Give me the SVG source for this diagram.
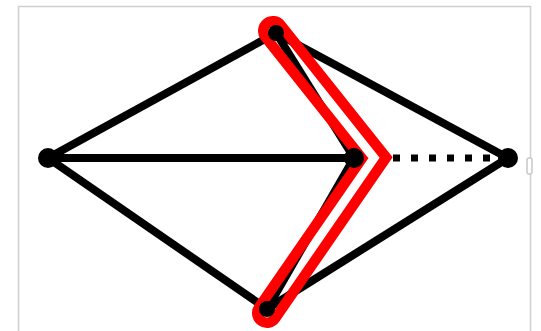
<svg xmlns="http://www.w3.org/2000/svg" width="541" height="331" viewBox="0 0 541 331">
  <style>
    .edge { stroke: #000; stroke-width: 8; fill: none; stroke-linecap: butt; }
    .dotted { stroke: #000; stroke-width: 7; fill: none; stroke-dasharray: 7 11; }
    .node { fill: #000; }
    .frame { fill: none; stroke: #d0d0d0; stroke-width: 1.5; }
    .hl { fill: none; stroke: #ff0000; stroke-width: 30; stroke-linecap: round; stroke-linejoin: miter; stroke-miterlimit: 10; }
  </style>
  <defs>
    <mask id="tubeMask" maskUnits="userSpaceOnUse" x="0" y="0" width="541" height="331">
      <rect x="0" y="0" width="541" height="331" fill="#fff"/>
      <path d="M273,31 L374,158 L267,313" fill="none" stroke="#000" stroke-width="9" stroke-linecap="round" stroke-linejoin="miter"/>
    </mask>
  </defs>
  <rect x="0" y="0" width="541" height="331" fill="#fff"/>
  <rect class="frame" x="18.5" y="6.5" width="512" height="340"/>
  <rect x="527" y="158" width="5" height="16" rx="2" fill="#fff" stroke="#c8c8c8" stroke-width="1.5"/>
  <g id="connectors">
    <line class="edge" x1="48" y1="158" x2="276" y2="33"/>
    <line class="edge" x1="48" y1="158" x2="354" y2="158"/>
    <line class="edge" x1="48" y1="158" x2="267" y2="309"/>
    <line class="edge" x1="276" y1="33" x2="354" y2="158"/>
    <line class="edge" x1="354" y1="158" x2="267" y2="309"/>
    <line class="edge" x1="276" y1="33" x2="508" y2="158"/>
    <line class="edge" x1="267" y1="309" x2="508" y2="158"/>
    <line class="dotted" x1="393" y1="158" x2="500" y2="158"/>
  </g>
  <g id="highlight">
    <path class="hl" d="M273,31 L374,158 L267,313" mask="url(#tubeMask)"/>
  </g>
  <g id="node-left"><circle class="node" cx="48" cy="158" r="10"/></g>
  <g id="node-top"><circle class="node" cx="276" cy="33" r="8"/></g>
  <g id="node-middle"><circle class="node" cx="354" cy="158" r="10"/></g>
  <g id="node-right"><circle class="node" cx="508" cy="158" r="10"/></g>
  <g id="node-bottom"><circle class="node" cx="267" cy="309" r="8"/></g>
</svg>
